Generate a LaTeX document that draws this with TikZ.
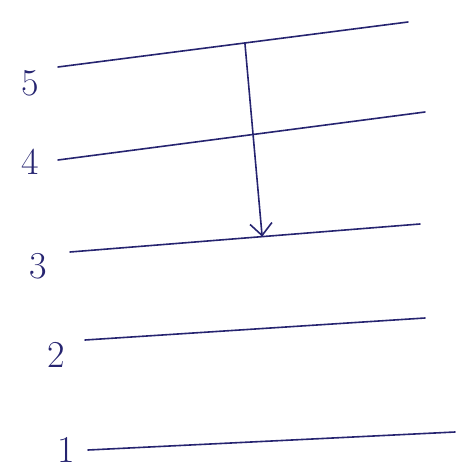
\documentclass[tikz,border=0pt]{standalone}
\usetikzlibrary{calc,arrows.meta}
\definecolor{ink}{RGB}{38,36,112}
\tikzset{
	level/.style={draw=ink, line width=1.6pt, line cap=round},
	lab/.style={text=ink, font=\fontsize{38}{38}\selectfont, inner sep=0pt},
	jump/.style={draw=ink, line width=1.6pt, -{Straight Barb[length=12pt,width=22pt]}}
}
\begin{document}
\begin{tikzpicture}[x=1pt, y=-1pt]
\useasboundingbox (0,0) rectangle (461,473);

% energy levels, 5 at the top
\foreach \n/\xa/\ya/\xb/\yb/\lx/\ly in {5/58/67/408/22/30/83, 4/58/160/425/112/30/162, 3/70/252/420/224/38/266, 2/85/340/425/318/56/355, 1/88/450/455/432/66/450}{
	\coordinate (l\n a) at (\xa,\ya);
	\coordinate (l\n b) at (\xb,\yb);
	\draw[level] (l\n a) -- (l\n b);
	\node[lab] (n\n) at (\lx,\ly) {\n};
}

\draw[jump] ($(l5a)!0.534!(l5b)$) -- ($(l3a)!0.549!(l3b)$);

\end{tikzpicture}
\end{document}
